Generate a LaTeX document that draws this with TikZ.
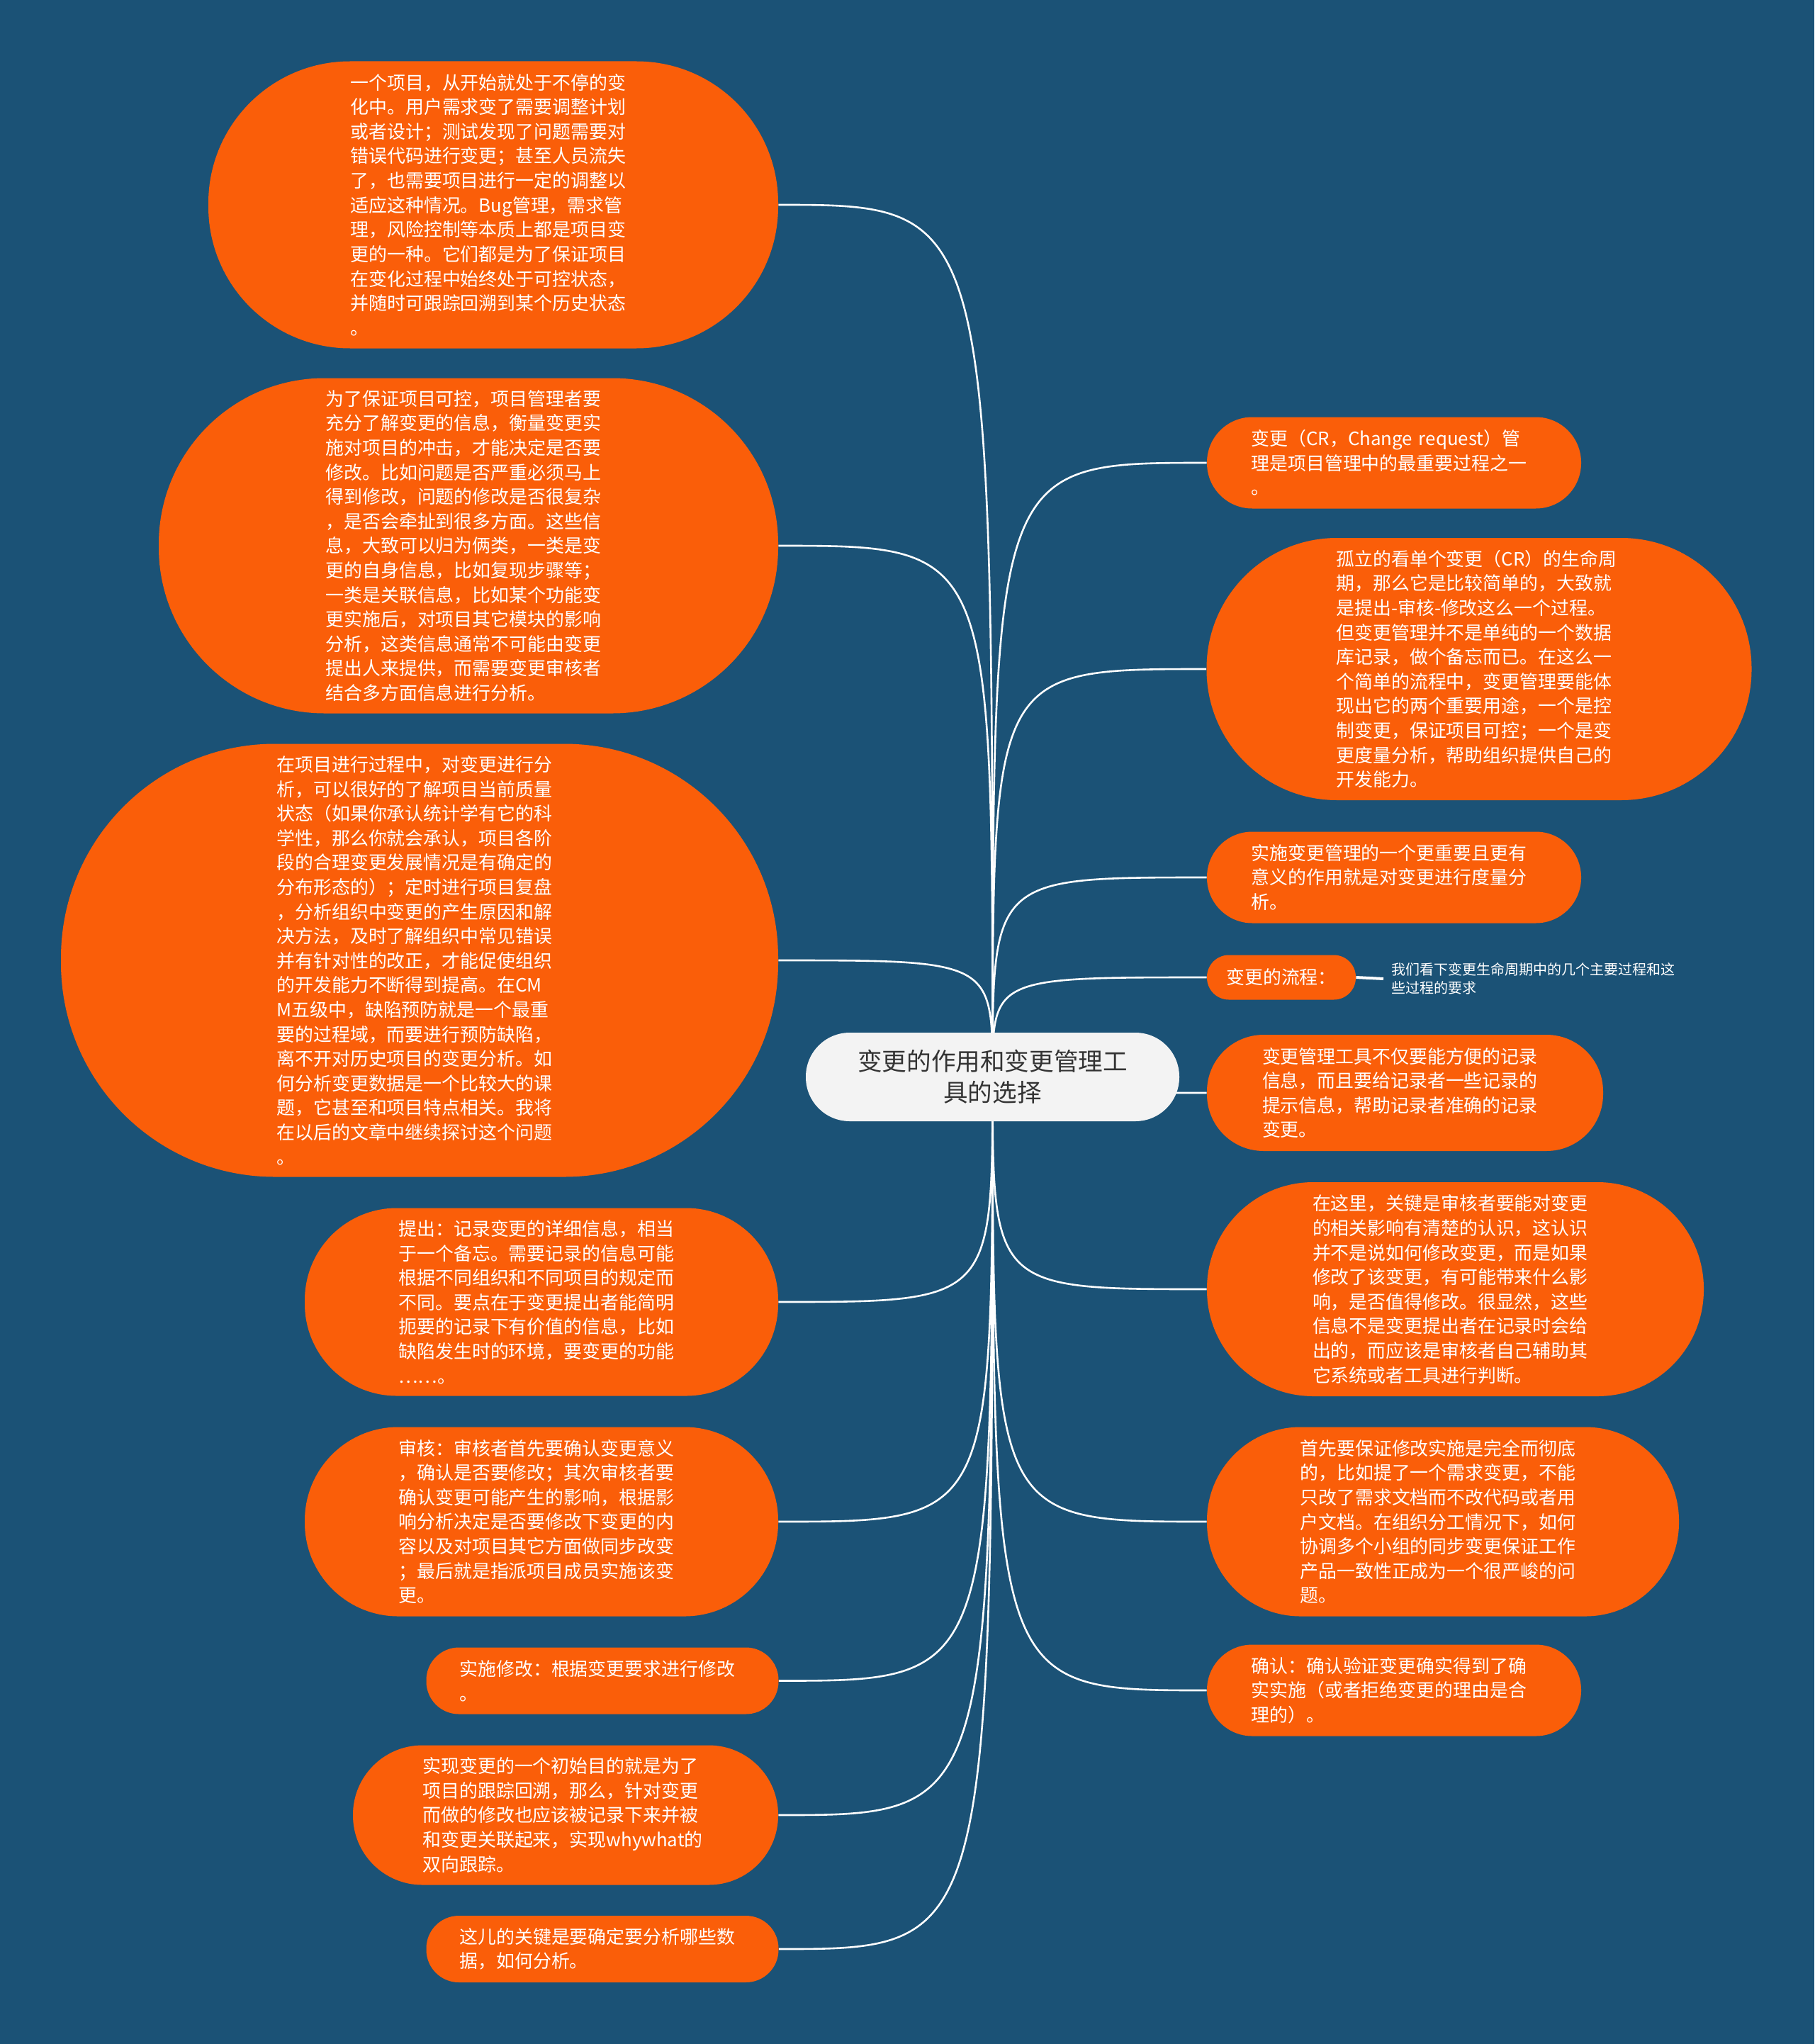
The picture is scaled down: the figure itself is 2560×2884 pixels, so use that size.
\documentclass[tikz,border=0pt]{standalone}
\usepackage{fontspec}
\newfontfamily\cjk{Noto Sans CJK SC}
\definecolor{bgblue}{RGB}{27,82,118}
\definecolor{leaforange}{RGB}{250,94,9}
\definecolor{rootfill}{RGB}{243,243,243}
\definecolor{roottext}{RGB}{51,51,51}
\pgfdeclarelayer{bglayer}
\pgfdeclarelayer{linelayer}
\pgfsetlayers{bglayer,linelayer,main}
\newcommand{\leaffont}{\cjk\fontsize{12.95pt}{17.3pt}\selectfont}
\newcommand{\rootfont}{\cjk\fontsize{17.3pt}{22pt}\selectfont}
\newcommand{\notefont}{\cjk\fontsize{10pt}{13pt}\selectfont}
\tikzset{
  leaf/.style={rectangle, fill=leaforange, text=white, font=\leaffont, align=left, inner sep=0pt},
  widetext/.style={text width=201.5pt},
  rootnode/.style={rectangle, fill=rootfill, text=roottext, font=\rootfont, align=center, inner sep=0pt,
     minimum width=263.5pt, minimum height=62.5pt, rounded corners=31pt},
  conn/.style={draw=white, line width=1.3pt},
  notenode/.style={text=white, font=\notefont, align=left, inner xsep=5.5pt, inner ysep=0pt, anchor=west},
}
\begin{document}
\begin{tikzpicture}[x=0.5pt,y=-0.5pt]
\useasboundingbox (0,0) rectangle (2560,2884);
\begin{pgfonlayer}{bglayer}
\fill[bgblue] (0,0) rectangle (2560,2884);
\end{pgfonlayer}

\node[rootnode] (C) at (1400.5,1519.5) {变更的作用和变更管理工\\具的选择};

% left side
\node[leaf, widetext, minimum width=402pt, minimum height=202.5pt, rounded corners=100pt] (L1) at (696,289) {一个项目，从开始就处于不停的变\\化中。用户需求变了需要调整计划\\或者设计；测试发现了问题需要对\\错误代码进行变更；甚至人员流失\\了，也需要项目进行一定的调整以\\适应这种情况。Bug管理，需求管\\理，风险控制等本质上都是项目变\\更的一种。它们都是为了保证项目\\在变化过程中始终处于可控状态，\\并随时可跟踪回溯到某个历史状态\\。};

\node[leaf, widetext, minimum width=437pt, minimum height=236.5pt, rounded corners=117pt] (L2) at (661,770) {为了保证项目可控，项目管理者要\\充分了解变更的信息，衡量变更实\\施对项目的冲击，才能决定是否要\\修改。比如问题是否严重必须马上\\得到修改，问题的修改是否很复杂\\，是否会牵扯到很多方面。这些信\\息，大致可以归为俩类，一类是变\\更的自身信息，比如复现步骤等；\\一类是关联信息，比如某个功能变\\更实施后，对项目其它模块的影响\\分析，这类信息通常不可能由变更\\提出人来提供，而需要变更审核者\\结合多方面信息进行分析。};

\node[leaf, widetext, minimum width=506pt, minimum height=305.5pt, rounded corners=151pt] (L3) at (592,1355) {在项目进行过程中，对变更进行分\\析，可以很好的了解项目当前质量\\状态（如果你承认统计学有它的科\\学性，那么你就会承认，项目各阶\\段的合理变更发展情况是有确定的\\分布形态的）；定时进行项目复盘\\，分析组织中变更的产生原因和解\\决方法，及时了解组织中常见错误\\并有针对性的改正，才能促使组织\\的开发能力不断得到提高。在CM\\M五级中，缺陷预防就是一个最重\\要的过程域，而要进行预防缺陷，\\离不开对历史项目的变更分析。如\\何分析变更数据是一个比较大的课\\题，它甚至和项目特点相关。我将\\在以后的文章中继续探讨这个问题\\。};

\node[leaf, widetext, minimum width=334pt, minimum height=132.5pt, rounded corners=65pt] (L4) at (764,1837) {提出：记录变更的详细信息，相当\\于一个备忘。需要记录的信息可能\\根据不同组织和不同项目的规定而\\不同。要点在于变更提出者能简明\\扼要的记录下有价值的信息，比如\\缺陷发生时的环境，要变更的功能\\……。};

\node[leaf, widetext, minimum width=334pt, minimum height=133.5pt, rounded corners=66pt] (L5) at (764,2147) {审核：审核者首先要确认变更意义\\，确认是否要修改；其次审核者要\\确认变更可能产生的影响，根据影\\响分析决定是否要修改下变更的内\\容以及对项目其它方面做同步改变\\；最后就是指派项目成员实施该变\\更。};

\node[leaf, widetext, minimum width=248.5pt, minimum height=47pt, rounded corners=23pt] (L6) at (850,2371.5) {实施修改：根据变更要求进行修改\\。};

\node[leaf, widetext, minimum width=300pt, minimum height=98.5pt, rounded corners=49pt] (L7) at (798,2561) {实现变更的一个初始目的就是为了\\项目的跟踪回溯，那么，针对变更\\而做的修改也应该被记录下来并被\\和变更关联起来，实现whywhat的\\双向跟踪。};

\node[leaf, widetext, minimum width=248.5pt, minimum height=47pt, rounded corners=23pt] (L8) at (850,2750) {这儿的关键是要确定要分析哪些数\\据，如何分析。};

% right side
\node[leaf, widetext, minimum width=264pt, minimum height=64.5pt, rounded corners=32pt] (R1) at (1967,653) {变更（CR，Change request）管\\理是项目管理中的最重要过程之一\\。};

\node[leaf, widetext, minimum width=384.5pt, minimum height=185pt, rounded corners=92pt] (R2) at (2087,944) {孤立的看单个变更（CR）的生命周\\期，那么它是比较简单的，大致就\\是提出-审核-修改这么一个过程。\\但变更管理并不是单纯的一个数据\\库记录，做个备忘而已。在这么一\\个简单的流程中，变更管理要能体\\现出它的两个重要用途，一个是控\\制变更，保证项目可控；一个是变\\更度量分析，帮助组织提供自己的\\开发能力。};

\node[leaf, widetext, minimum width=264pt, minimum height=64.5pt, rounded corners=32pt] (R3) at (1967,1238) {实施变更管理的一个更重要且更有\\意义的作用就是对变更进行度量分\\析。};

\node[leaf, minimum width=105pt, minimum height=31.5pt, rounded corners=15.5pt] (R4) at (1808,1379) {变更的流程：};
\node[notenode] (R4b) at (1952,1381) {我们看下变更生命周期中的几个主要过程和这\\些过程的要求};

\node[leaf, widetext, minimum width=279.5pt, minimum height=82pt, rounded corners=40pt] (R5) at (1982.5,1542) {变更管理工具不仅要能方便的记录\\信息，而且要给记录者一些记录的\\提示信息，帮助记录者准确的记录\\变更。};

\node[leaf, widetext, minimum width=350.5pt, minimum height=151pt, rounded corners=75pt] (R6) at (2053.5,1819) {在这里，关键是审核者要能对变更\\的相关影响有清楚的认识，这认识\\并不是说如何修改变更，而是如果\\修改了该变更，有可能带来什么影\\响，是否值得修改。很显然，这些\\信息不是变更提出者在记录时会给\\出的，而应该是审核者自己辅助其\\它系统或者工具进行判断。};

\node[leaf, widetext, minimum width=333pt, minimum height=133.5pt, rounded corners=66pt] (R7) at (2036,2147) {首先要保证修改实施是完全而彻底\\的，比如提了一个需求变更，不能\\只改了需求文档而不改代码或者用\\户文档。在组织分工情况下，如何\\协调多个小组的同步变更保证工作\\产品一致性正成为一个很严峻的问\\题。};

\node[leaf, widetext, minimum width=264pt, minimum height=64.5pt, rounded corners=32pt] (R8) at (1967,2385) {确认：确认验证变更确实得到了确\\实实施（或者拒绝变更的理由是合\\理的）。};

% connectors
\begin{pgfonlayer}{linelayer}
\foreach \n in {L1,L2,L3,L4,L5,L6,L7,L8}
  \draw[conn] (C.center) .. controls (C.center |- \n.east) .. (\n.east);
\foreach \n in {R1,R2,R3,R4,R5,R6,R7,R8}
  \draw[conn] (C.center) .. controls (C.center |- \n.west) .. (\n.west);
\draw[conn, line width=2pt] (R4.east) -- (R4b.west);
\end{pgfonlayer}
\end{tikzpicture}
\end{document}
